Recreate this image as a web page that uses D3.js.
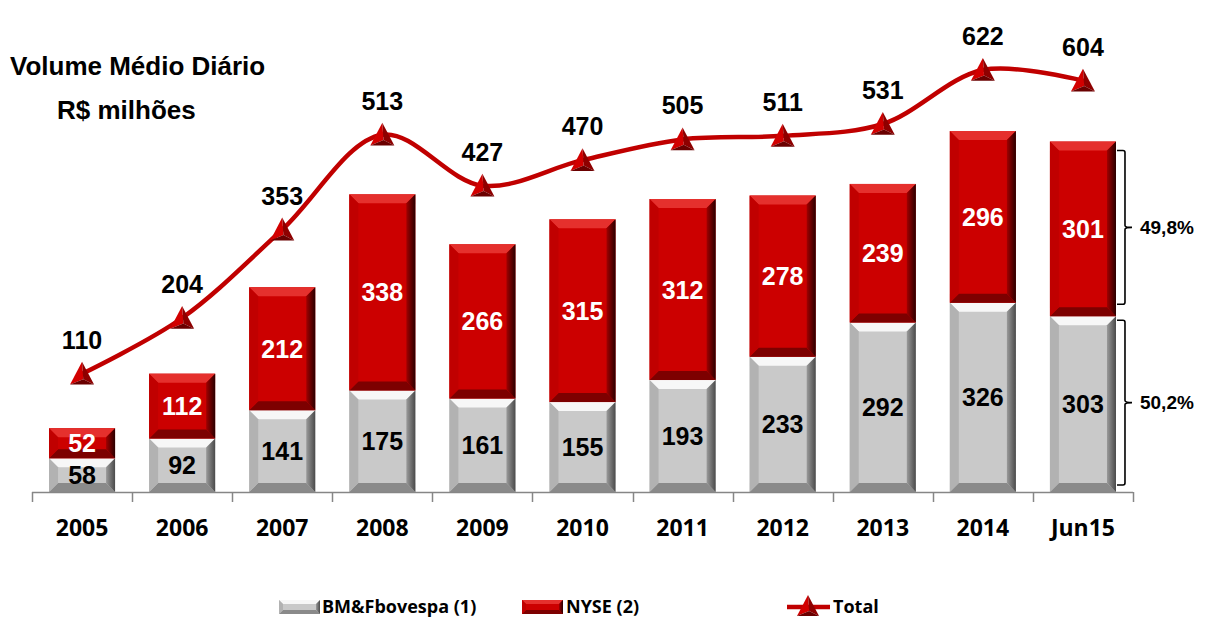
<!DOCTYPE html>
<html>
<head>
<meta charset="utf-8">
<script src="https://cdn.jsdelivr.net/npm/d3@7"></script>
<style>
  html, body { margin: 0; padding: 0; background: #ffffff; }
  svg { display: block; }
</style>
</head>
<body>
<svg id="chart" width="1207" height="619"></svg>
<script>
// Average daily traded volume, R$ millions
const categories = ["2005", "2006", "2007", "2008", "2009", "2010", "2011", "2012", "2013", "2014", "Jun15"];
const bmfValues  = [58, 92, 141, 175, 161, 155, 193, 233, 292, 326, 303];
const nyseValues = [52, 112, 212, 338, 266, 315, 312, 278, 239, 296, 301];
const totalValues = [110, 204, 353, 513, 427, 470, 505, 511, 531, 622, 604];
const seriesNames = ["BM&Fbovespa (1)", "NYSE (2)", "Total"];
const titleLines = ["Volume Médio Diário", "R$ milhões"];

const svg = d3.select("#chart");
const numFont = "'Liberation Sans', Arial, sans-serif";
const catFont = "'Open Sans', 'Noto Sans', sans-serif";

const x = d3.scaleBand().domain(categories).range([32, 1133]).paddingInner(0.34).paddingOuter(0.17);
const yBar = d3.scaleLinear().domain([0, 848]).range([492, 0]);
const yLine = d3.scaleLinear().domain([0, 740]).range([439, 0]);

const red = { main: "#cc0000", top: "#e5302d", bottom: "#7d0000", left: "#c00000", rightA: "#a00000", rightB: "#2a0000" };
const gray = { main: "#c9c9c9", top: "#f7f7f7", bottom: "#8a8a8a", left: "#b2b2b2", rightA: "#9a9a9a", rightB: "#4a4a4a" };

const defs = svg.append("defs");
function rightGrad(id, p) {
  const g = defs.append("linearGradient").attr("id", id).attr("x1", 0).attr("x2", 1).attr("y1", 0).attr("y2", 0);
  g.append("stop").attr("offset", 0).attr("stop-color", p.rightA);
  g.append("stop").attr("offset", 1).attr("stop-color", p.rightB);
}
rightGrad("gr-red", red);
rightGrad("gr-gray", gray);

// Beveled rectangle: flat face framed by four trapezoid edges
function bevelRect(g, x0, y0, w, h, p, gradId, bMax) {
  const b = Math.min(bMax, h / 3, w / 4);
  g.append("rect").attr("x", x0).attr("y", y0).attr("width", w).attr("height", h).attr("fill", p.main);
  const poly = (pts, fill) => g.append("polygon").attr("points", pts.map(d => d.join(",")).join(" ")).attr("fill", fill);
  poly([[x0, y0], [x0 + w, y0], [x0 + w - b, y0 + b], [x0 + b, y0 + b]], p.top);
  poly([[x0, y0 + h], [x0 + w, y0 + h], [x0 + w - b, y0 + h - b], [x0 + b, y0 + h - b]], p.bottom);
  poly([[x0, y0], [x0 + b, y0 + b], [x0 + b, y0 + h - b], [x0, y0 + h]], p.left);
  poly([[x0 + w, y0], [x0 + w - b, y0 + b], [x0 + w - b, y0 + h - b], [x0 + w, y0 + h]], `url(#${gradId})`);
}

// Title
svg.append("text").attr("x", 10).attr("y", 75).text(titleLines[0])
  .attr("font-family", numFont).attr("font-weight", "bold").attr("font-size", 26).attr("fill", "#000");
svg.append("text").attr("x", 57).attr("y", 119).text(titleLines[1])
  .attr("font-family", numFont).attr("font-weight", "bold").attr("font-size", 26).attr("fill", "#000");

// Stacked bars
const barG = svg.append("g");
categories.forEach((c, i) => {
  const bx = x(c), bw = x.bandwidth();
  const g0 = bmfValues[i], r0 = nyseValues[i];
  const gTop = yBar(g0), rTop = yBar(g0 + r0);
  bevelRect(barG.append("g"), bx, gTop, bw, yBar(0) - gTop, gray, "gr-gray", 9);
  bevelRect(barG.append("g"), bx, rTop, bw, gTop - rTop, red, "gr-red", 9);
  barG.append("text").attr("x", bx + bw / 2).attr("y", (gTop + yBar(0)) / 2).attr("dy", "0.36em")
    .attr("text-anchor", "middle").attr("font-family", numFont).attr("font-weight", "bold")
    .attr("font-size", 25).attr("fill", "#000").text(g0);
  barG.append("text").attr("x", bx + bw / 2).attr("y", (rTop + gTop) / 2).attr("dy", "0.36em")
    .attr("text-anchor", "middle").attr("font-family", numFont).attr("font-weight", "bold")
    .attr("font-size", 25).attr("fill", "#fff").text(r0);
});

// Category axis
const axG = svg.append("g");
const step = x.step();
const x0 = x.range()[0];
axG.append("line").attr("x1", x0).attr("x2", x.range()[1]).attr("y1", yBar(0) + 0.5).attr("y2", yBar(0) + 0.5)
  .attr("stroke", "#868686").attr("stroke-width", 1.5);
d3.range(categories.length + 1).forEach(k => {
  const tx = Math.round(x0 + k * step) + 0.5;
  axG.append("line").attr("x1", tx).attr("x2", tx).attr("y1", yBar(0)).attr("y2", yBar(0) + 10)
    .attr("stroke", "#868686").attr("stroke-width", 1.5);
});
categories.forEach(c => {
  axG.append("text").attr("x", x(c) + x.bandwidth() / 2).attr("y", 536).attr("text-anchor", "middle")
    .attr("font-family", catFont).attr("font-weight", "bold").attr("font-size", 23).attr("fill", "#000").text(c);
});

// Total line with triangle markers
const pts = categories.map((c, i) => [x(c) + x.bandwidth() / 2, yLine(totalValues[i])]);
svg.append("path").attr("d", d3.line().curve(d3.curveCatmullRom.alpha(0.5))(pts))
  .attr("fill", "none").attr("stroke", "#c00000").attr("stroke-width", 4.5).attr("stroke-linecap", "round");

function triangle(g, cx, cy, s) {
  const ap = [cx, cy - s], bl = [cx - s, cy + s * 0.9], br = [cx + s, cy + s * 0.9], pc = [cx + s * 0.1, cy + s * 0.45];
  const poly = (p, fill) => g.append("polygon").attr("points", p.map(d => d.join(",")).join(" ")).attr("fill", fill);
  poly([ap, bl, pc], "#d20000");
  poly([ap, br, pc], "#8e0000");
  poly([bl, br, pc], "#6a0000");
}
const mk = svg.append("g");
pts.forEach(p => triangle(mk, p[0], p[1], 12));

totalValues.forEach((v, i) => {
  svg.append("text").attr("x", pts[i][0]).attr("y", pts[i][1] - 25).attr("text-anchor", "middle")
    .attr("font-family", numFont).attr("font-weight", "bold").attr("font-size", 25).attr("fill", "#000").text(v);
});

// Share brackets for the last period
const li = categories.length - 1;
const last = categories[li];
const bRight = x(last) + x.bandwidth();
const fmtPct = v => (v * 100).toFixed(1).replace(".", ",") + "%";
function bracket(yTop, yBot, label) {
  const xa = bRight + 1, xb = bRight + 9, xt = bRight + 16, ym = (yTop + yBot) / 2;
  svg.append("path")
    .attr("d", `M${xa},${yTop} L${xb - 2},${yTop} Q${xb},${yTop} ${xb},${yTop + 2} L${xb},${ym - 2} Q${xb},${ym} ${xt},${ym} Q${xb},${ym} ${xb},${ym + 2} L${xb},${yBot - 2} Q${xb},${yBot} ${xb - 2},${yBot} L${xa},${yBot}`)
    .attr("fill", "none").attr("stroke", "#000").attr("stroke-width", 1.6);
  svg.append("text").attr("x", bRight + 24).attr("y", ym).attr("dy", "0.36em")
    .attr("font-family", numFont).attr("font-weight", "bold").attr("font-size", 19).attr("fill", "#000").text(label);
}
const tot = bmfValues[li] + nyseValues[li];
bracket(yBar(tot) + 9, yBar(bmfValues[li]) - 12, fmtPct(nyseValues[li] / tot));
bracket(yBar(bmfValues[li]) + 4, yBar(0) - 7, fmtPct(bmfValues[li] / tot));

// Legend
const lg = svg.append("g");
const ly = 607;
bevelRect(lg.append("g"), 279, ly - 7, 41, 14, gray, "gr-gray", 4);
lg.append("text").attr("x", 322).attr("y", ly).attr("dy", "0.36em").text(seriesNames[0])
  .attr("font-family", catFont).attr("font-weight", "bold").attr("font-size", 18).attr("fill", "#000");
bevelRect(lg.append("g"), 522, ly - 7, 41, 14, red, "gr-red", 4);
lg.append("text").attr("x", 566).attr("y", ly).attr("dy", "0.36em").text(seriesNames[1])
  .attr("font-family", catFont).attr("font-weight", "bold").attr("font-size", 18).attr("fill", "#000");
lg.append("line").attr("x1", 787).attr("x2", 830).attr("y1", ly).attr("y2", ly)
  .attr("stroke", "#c00000").attr("stroke-width", 4.5);
triangle(lg, 808, ly - 1, 11);
lg.append("text").attr("x", 833).attr("y", ly).attr("dy", "0.36em").text(seriesNames[2])
  .attr("font-family", catFont).attr("font-weight", "bold").attr("font-size", 18).attr("fill", "#000");
</script>
</body>
</html>
